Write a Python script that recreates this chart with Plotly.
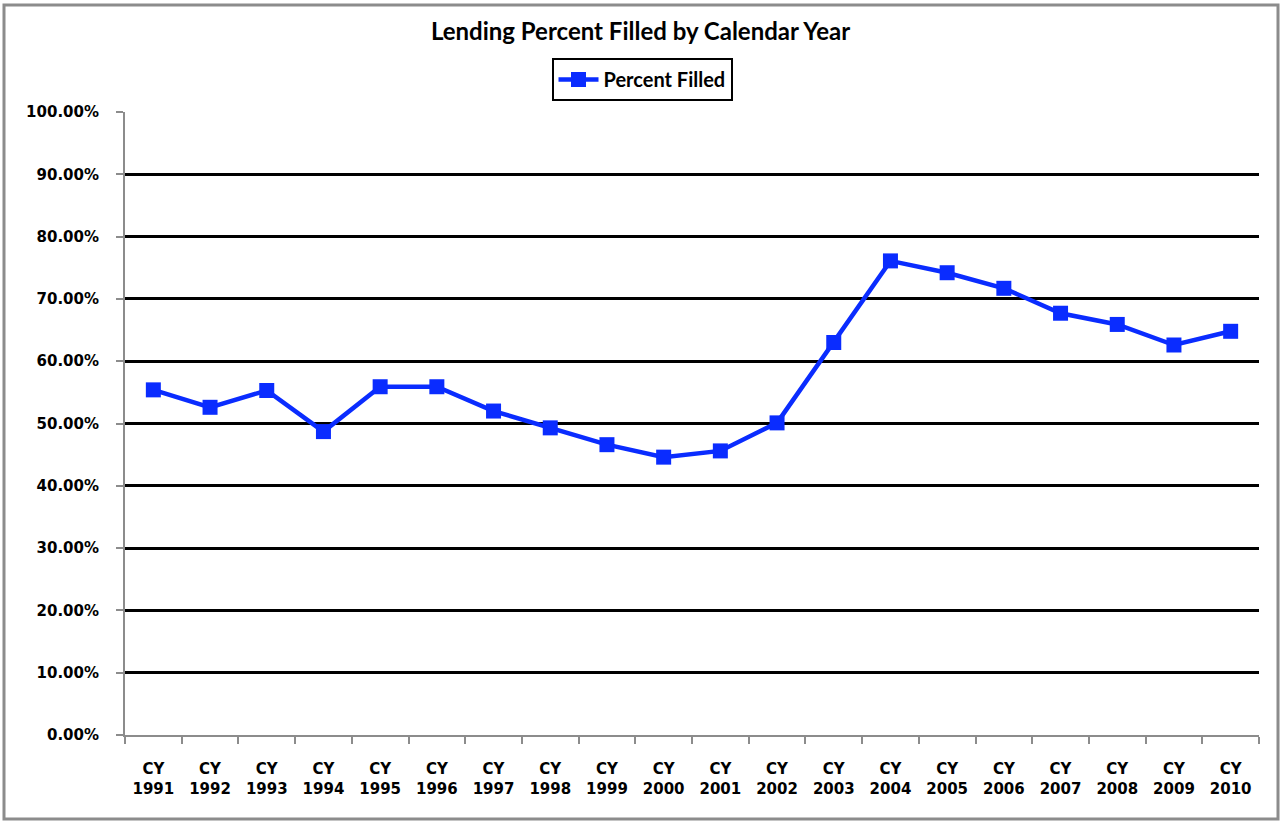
import plotly.graph_objects as go

years = ["1991", "1992", "1993", "1994", "1995", "1996", "1997", "1998", "1999", "2000",
         "2001", "2002", "2003", "2004", "2005", "2006", "2007", "2008", "2009", "2010"]
categories = [f"CY<br>{y}" for y in years]
percent_filled = [0.554, 0.526, 0.553, 0.487, 0.559, 0.559, 0.520, 0.493, 0.466, 0.446,
                  0.456, 0.501, 0.630, 0.761, 0.742, 0.717, 0.677, 0.659, 0.626, 0.648]

W, H = 1281, 821
L, R, T, B = 125, 22, 112, 86
pw, ph = W - L - R, H - T - B

def px_to_paper_x(px):
    return (px - L) / pw

def px_to_paper_y(py):
    return (H - B - py) / ph

blue = "#0a2cff"
tick_font = dict(family="DejaVu Sans, Verdana, sans-serif", size=15, color="black", weight="bold")

fig = go.Figure()
fig.add_trace(go.Scatter(
    x=categories, y=percent_filled, mode="lines+markers", name="Percent Filled",
    line=dict(color=blue, width=4.5),
    marker=dict(symbol="square", size=15, color=blue),
))

fig.update_layout(
    width=W, height=H, autosize=False,
    margin=dict(l=L, r=R, t=T, b=B, autoexpand=False),
    paper_bgcolor="white", plot_bgcolor="white",
    title=dict(text="<b>Lending Percent Filled by Calendar Year</b>",
               x=0.5, xref="container", y=1 - 32 / H, yref="container",
               xanchor="center", yanchor="middle",
               font=dict(family="Lato, Open Sans, sans-serif", size=24, color="black")),
    showlegend=True,
    legend=dict(x=642 / W, xref="container", xanchor="center",
                y=1 - 58 / H, yref="container", yanchor="top",
                bgcolor="white", bordercolor="black", borderwidth=2,
                font=dict(family="Lato, Open Sans, sans-serif", size=20, color="black", weight="bold"),
                itemwidth=40, tracegroupgap=0),
    xaxis=dict(type="category", range=[-0.5, 19.5], showgrid=False,
               showline=True, linecolor="#8c8c8c", linewidth=2,
               ticks="outside", tickson="boundaries", ticklen=7, tickcolor="#8c8c8c", tickwidth=2,
               tickangle=0, ticklabelstandoff=19,
               tickfont=tick_font, fixedrange=True),
    yaxis=dict(range=[0, 1.0], dtick=0.1, tickformat=".2%",
               showgrid=True, gridcolor="black", gridwidth=3,
               showline=True, linecolor="#8c8c8c", linewidth=2,
               ticks="outside", ticklen=7, tickcolor="#8c8c8c", tickwidth=2,
               ticklabelstandoff=14,
               tickfont=tick_font, zeroline=False, fixedrange=True),
)

fig.add_shape(type="rect", xref="paper", yref="paper",
              x0=px_to_paper_x(4), x1=px_to_paper_x(1278),
              y0=px_to_paper_y(819), y1=px_to_paper_y(5),
              line=dict(color="#8c8c8c", width=3), fillcolor="rgba(0,0,0,0)", layer="below")

fig.write_html("out.html", config={"displayModeBar": False},
               post_script="document.body.style.margin='0';document.body.style.padding='0';")
